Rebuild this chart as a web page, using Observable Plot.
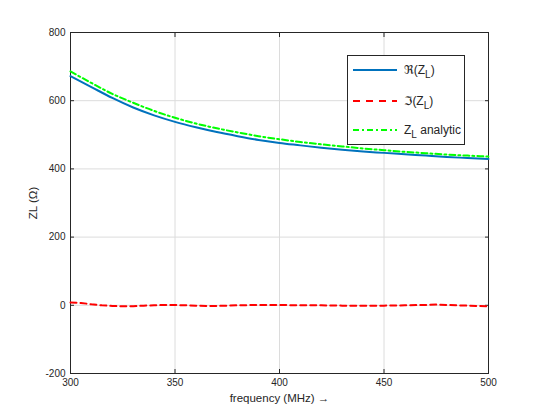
<!DOCTYPE html>
<html>
<head>
<meta charset="utf-8">
<script src="https://cdn.jsdelivr.net/npm/d3@7"></script>
<script src="https://cdn.jsdelivr.net/npm/@observablehq/plot@0.6"></script>
<style>
  html, body { margin: 0; padding: 0; background: #fff; }
  #wrap { position: relative; width: 540px; height: 420px; font-family: "Liberation Sans", Arial, sans-serif; }
  #legend { position: absolute; left: 347px; top: 55px; width: 118px; height: 90px; border: 1px solid #262626; background: #fff; box-sizing: border-box; font-size: 12px; color: #262626; }
  .row { position: absolute; left: 5px; height: 16px; display: flex; align-items: center; }
  .row svg { margin-right: 7px; }
  .g { font-family: "DejaVu Sans", sans-serif; font-size: 12px; }
  sub { font-size: 10px; vertical-align: -4px; line-height: 0; }
</style>
</head>
<body>
<div id="wrap"></div>
<script>
const freqs = [300,310,320,330,340,350,360,370,380,390,400,410,420,430,440,450,460,470,480,490,500];
const realZ = [672,640,608,580,557,538,522,508,496,485,476,469,462,456,451,447,443,439,435,432,429];
const analyticZ = [686,652,620,594,570,550,533,519,507,496,487,479,472,466,460,455,450,446,442,439,436];
const imagFreqs = [300,305,310,315,320,325,330,335,340,345,350,355,360,365,370,375,380,390,400,410,420,430,440,450,460,470,475,480,490,500];
const imagZ = [8,7,3,0,-2,-3,-3,-1,0,1,1,0,-1,-2,-2,-1,0,1,1,0,0,-1,-1,-1,0,1,2,1,-1,-3];
const xTicks = [300,350,400,450,500];
const yTicks = [-200,0,200,400,600,800];

const realData = freqs.map((f,i) => ({f, v: realZ[i]}));
const anaData = freqs.map((f,i) => ({f, v: analyticZ[i]}));
const imagData = imagFreqs.map((f,i) => ({f, v: imagZ[i]}));

const ink = "#262626";
const fmt = d => String(d);
const chart = Plot.plot({
  width: 540, height: 420,
  marginLeft: 70, marginRight: 52, marginTop: 32, marginBottom: 47,
  style: {fontFamily: "Liberation Sans, Arial, sans-serif", fontSize: "10px", color: ink, background: "#fff"},
  x: {domain: [300, 500], label: null},
  y: {domain: [-200, 800], label: null},
  marks: [
    Plot.gridX(xTicks, {stroke: "#dcdcdc", strokeOpacity: 1}),
    Plot.gridY(yTicks, {stroke: "#dcdcdc", strokeOpacity: 1}),
    Plot.axisX(xTicks, {anchor: "bottom", tickSize: -4, tickPadding: 9, tickFormat: fmt, stroke: ink, fontSize: 10, label: null}),
    Plot.axisX({anchor: "bottom", ticks: [], label: "frequency (MHz) →", labelAnchor: "center", labelArrow: "none", labelOffset: 28, fontSize: 11.5}),
    Plot.axisX(xTicks, {anchor: "top", tickSize: -4, text: null, label: null, stroke: ink}),
    Plot.axisY(yTicks, {anchor: "left", tickSize: -4, tickPadding: 9, tickFormat: fmt, stroke: ink, fontSize: 10, label: null}),
    Plot.axisY({anchor: "left", ticks: [], label: "ZL (Ω)", labelAnchor: "center", labelArrow: "none", labelOffset: 42, fontSize: 11.5}),
    Plot.axisY(yTicks, {anchor: "right", tickSize: -4, text: null, label: null, stroke: ink}),
    Plot.frame({stroke: ink, strokeWidth: 1}),
    Plot.line(imagData, {x: "f", y: "v", stroke: "#ff0000", strokeWidth: 2, strokeDasharray: "6,4"}),
    Plot.line(realData, {x: "f", y: "v", stroke: "#0072bd", strokeWidth: 2, curve: "monotone-x"}),
    Plot.line(anaData, {x: "f", y: "v", stroke: "#00ff00", strokeWidth: 2, strokeDasharray: "6,3,2,3", curve: "monotone-x"})
  ]
});
const wrap = document.getElementById("wrap");
wrap.appendChild(chart);

const legend = document.createElement("div");
legend.id = "legend";
const items = [
  {html: "<span class='g'>ℜ</span>(Z<sub>L</sub>)", color: "#0072bd", dash: null, top: 6},
  {html: "<span class='g'>ℑ</span>(Z<sub>L</sub>)", color: "#ff0000", dash: "7,6", top: 37},
  {html: "Z<sub>L</sub> analytic", color: "#00ff00", dash: "6,3,2,3", top: 66}
];
for (const it of items) {
  const row = document.createElement("div");
  row.className = "row";
  row.style.top = it.top + "px";
  row.innerHTML = `<svg width="44" height="6"><line x1="0" y1="3" x2="44" y2="3" stroke="${it.color}" stroke-width="2" ${it.dash ? `stroke-dasharray="${it.dash}"` : ""}/></svg><span>${it.html}</span>`;
  legend.appendChild(row);
}
wrap.appendChild(legend);
</script>
</body>
</html>
